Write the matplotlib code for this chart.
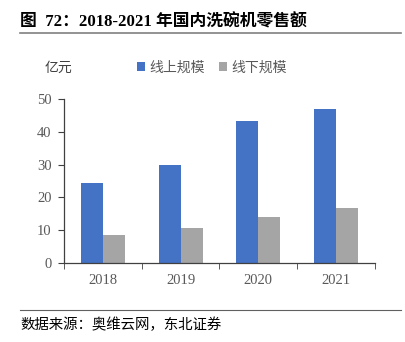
import matplotlib
matplotlib.use("Agg")
import matplotlib.pyplot as plt
import numpy as np
from matplotlib.lines import Line2D

years = ["2018", "2019", "2020", "2021"]
online = [24.5, 29.9, 43.2, 46.9]
offline = [8.4, 10.7, 14.0, 16.9]
series_names = ["线上规模", "线下规模"]

FAM = ["Liberation Serif", "Noto Sans CJK SC"]
plt.rcParams['font.family'] = FAM

W, H = 406, 342
fig = plt.figure(figsize=(W/100, H/100), dpi=100)

ax = fig.add_axes([64/W, 1-263/H, (375-64)/W, (263-99)/H])
x = np.arange(len(years))
bw = 0.283
ax.bar(x - bw/2, online, bw, color="#4472C4", label=series_names[0])
ax.bar(x + bw/2, offline, bw, color="#A5A5A5", label=series_names[1])
ax.set_xlim(-0.5, len(years)-0.5)
ax.set_ylim(0, 50)
ax.set_yticks(range(0, 51, 10))
ax.set_xticks(x)
ax.set_xticklabels(years)
ax.set_xticks(np.arange(-0.5, len(years), 1), minor=True)
ax.tick_params(axis='x', which='major', length=0, pad=8, labelsize=10.5, labelcolor="#595959")
ax.tick_params(axis='x', which='minor', length=4, color="#404040", direction='out')
ax.tick_params(axis='y', length=4, color="#404040", labelsize=10.5, labelcolor="#595959", pad=5)
for s in ["top", "right"]:
    ax.spines[s].set_visible(False)
for s in ["left", "bottom"]:
    ax.spines[s].set_color("#404040")
    ax.spines[s].set_linewidth(0.9)

fig.text(20/W, 1-22/H, "图  72：2018-2021 年国内洗碗机零售额", fontsize=12.1, fontweight='bold',
         va='center', ha='left', family=FAM)
fig.add_artist(Line2D([20/W, 401/W], [1-33/H, 1-33/H], color="#808080", lw=1.2))
fig.add_artist(Line2D([20/W, 401/W], [1-310/H, 1-310/H], color="#606060", lw=0.8))
fig.text(20/W, 1-325/H, "数据来源：奥维云网，东北证券", fontsize=10.4, va='center', ha='left', family=FAM)
fig.text(45/W, 1-68/H, "亿元", fontsize=10, va='center', ha='left', color="#404040", family=FAM)

leg = fig.legend(loc='center left', bbox_to_anchor=(130/W, 1-68/H), ncol=2, frameon=False,
                 fontsize=10, handlelength=0.6, handleheight=0.6, handletextpad=0.3,
                 columnspacing=1.0, borderpad=0)
for t in leg.get_texts():
    t.set_color("#595959")

fig.savefig("out.png", dpi=100)
